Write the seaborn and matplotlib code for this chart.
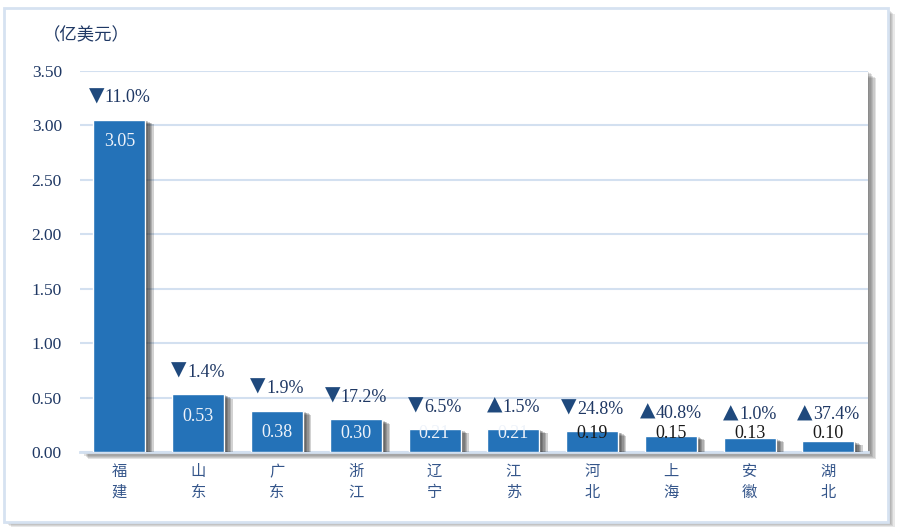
import numpy as np
import pandas as pd
import seaborn as sns
import matplotlib.pyplot as plt
from matplotlib import patheffects as pe
from matplotlib.patches import Rectangle

# 数据
provinces = ['福建', '山东', '广东', '浙江', '辽宁', '江苏', '河北', '上海', '安徽', '湖北']
values = [3.05, 0.53, 0.38, 0.30, 0.21, 0.21, 0.19, 0.15, 0.13, 0.10]
changes = ['11.0%', '1.4%', '1.9%', '17.2%', '6.5%', '1.5%', '24.8%', '40.8%', '1.0%', '37.4%']
up = [False, False, False, False, False, True, False, True, True, True]
yticks = [0.0, 0.5, 1.0, 1.5, 2.0, 2.5, 3.0, 3.5]

df = pd.DataFrame({'省份': provinces, '金额': values})

sns.set_style('white')
plt.rcParams['font.family'] = ['Liberation Serif', 'Noto Sans CJK SC', 'DejaVu Sans']

navy = '#1f3864'
grid_c = '#d3e0f0'
bar_c = '#2472b8'


def soft_shadow(n, dx, dy, color, alpha):
    # 叠几层阴影，做出模糊的效果
    fx = [pe.SimplePatchShadow(offset=(dx * k / n, dy * k / n), shadow_rgbFace=color, alpha=alpha)
          for k in range(n, 0, -1)]
    return fx + [pe.Normal()]


fig = plt.figure(figsize=(9.04, 5.30), dpi=100)
fig.patch.set_facecolor('white')

# 外框
frame = Rectangle((0.004, 0.016), 0.978, 0.968, transform=fig.transFigure,
                  facecolor='white', edgecolor='#d6e2f1', linewidth=2, zorder=-5)
frame.set_path_effects(soft_shadow(5, 5, -4, '#666666', 0.15))
fig.patches.append(frame)

ax = fig.add_axes([0.0885, 0.147, 0.8715, 0.719])
ax.patch.set_path_effects(soft_shadow(6, 6, -5, '#555555', 0.17))

sns.barplot(data=df, x='省份', y='金额', color=bar_c, saturation=1, width=0.66, ax=ax, zorder=3)
for bar in ax.patches:
    bar.set_path_effects(soft_shadow(6, 6, -3, '#222222', 0.2))

ax.set_ylim(0, 3.5)
ax.set_yticks(yticks)
ax.set_yticklabels([f'{t:.2f}' for t in yticks], fontsize=12.5, color=navy)
ax.yaxis.grid(True, color=grid_c, linewidth=1.5, zorder=0)
ax.set_axisbelow(True)
ax.set_xticks(range(len(provinces)))
ax.set_xticklabels(['\n'.join(p) for p in provinces], fontsize=11, color='#34558a',
                   family=['Noto Sans CJK SC', 'DejaVu Sans'], linespacing=1.3)
ax.tick_params(axis='both', length=0, pad=8)
ax.tick_params(axis='y', pad=13)
ax.set_xlabel('')
ax.set_ylabel('')
for s in ['left', 'right', 'top']:
    ax.spines[s].set_visible(False)
ax.spines['bottom'].set_color(grid_c)
ax.spines['bottom'].set_linewidth(2)

# 数值标签与同比变化
r = fig.canvas.get_renderer()
tri_w, gap = 13, 3  # 三角形宽度和间距（像素）
for i, (v, c, u) in enumerate(zip(values, changes, up)):
    ax.text(i, max(v - 0.2, 0.175), f'{v:.2f}', ha='center', va='center', fontsize=13,
            color='#eef3fa' if v >= 0.2 else '#1a1a1a', zorder=5)
    base = max(v, 0.14)
    t = ax.annotate(c, (i, base), xytext=(0, 16), textcoords='offset points',
                    ha='left', va='center', fontsize=13, color=navy, zorder=5)
    w = t.get_window_extent(r).width
    left = -(w + tri_w + gap) / 2
    t.set_position(((left + tri_w + gap) * 0.72, 16))
    ax.annotate('▲' if u else '▼', (i, base), xytext=(left * 0.72, 17.5), textcoords='offset points',
                ha='left', va='center', fontsize=14.5, color='#1f497d', zorder=5,
                family=['DejaVu Sans'])

fig.text(0.047, 0.934, '（亿美元）', fontsize=12.5, color=navy, ha='left', va='center',
         family=['Noto Sans CJK SC', 'DejaVu Sans'])

fig.savefig('out.png', dpi=100)
